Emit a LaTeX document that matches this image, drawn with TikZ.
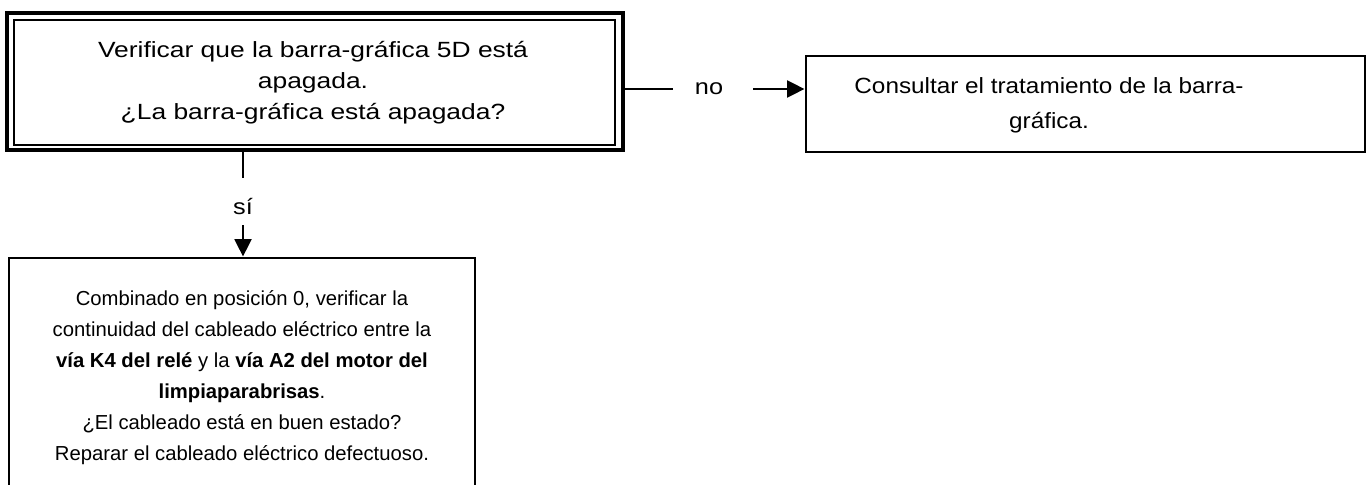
\documentclass[tikz,border=0pt]{standalone}
\usepackage{fontspec}
\setmainfont{Liberation Sans}[FakeStretch=1.15]
\newfontfamily\fontA{Liberation Sans}[FakeStretch=1.2]
\newfontfamily\fontB{Liberation Sans}[FakeStretch=1.105]
\newfontfamily\fontC{Liberation Sans}
\usetikzlibrary{arrows.meta}
\begin{document}
\begin{tikzpicture}[x=0.75pt,y=-0.75pt,
  box/.style={draw,line width=2.2pt,inner sep=0pt},
  txt/.style={align=center,inner sep=0pt,font=\fontsize{16.5}{23.25}\selectfont},
  conn/.style={line width=2.2pt},
  arr/.style={line width=2.2pt,-{Triangle[length=13pt,width=12.5pt]}}]
\useasboundingbox (0,0) rectangle (1368,485);
\clip (0,0) rectangle (1368,485);
% box 1 (double frame)
\node[box,line width=2.8pt,minimum width=462pt,minimum height=102.75pt] (b1o) at (315,81.5) {};
\node[box,minimum width=450.75pt,minimum height=93.75pt] (b1) at (314.5,82.5) {};
\node[txt,font=\fontA\fontsize{16.5}{23.25}\selectfont] (t1) at (313,83) {Verificar que la barra-gráfica 5D está\\apagada.\\¿La barra-gráfica está apagada?};
% box 2
\node[box,minimum width=419.25pt,minimum height=72pt] (b2) at (1085.5,104) {};
\node[txt,font=\fontB\fontsize{16.5}{26.25}\selectfont] (t2) at (1049,105) {Consultar el tratamiento de la barra-\\gráfica.};
% box 3
\node[box,minimum width=349.5pt,minimum height=256.5pt] (b3) at (242,429) {};
\node[txt,font=\fontC\fontsize{15.2}{23.25}\selectfont] (t3) at (242,378) {Combinado en posición 0, verificar la\\continuidad del cableado eléctrico entre la\\\textbf{vía K4 del relé} y la \textbf{vía A2 del motor del}\\\textbf{limpiaparabrisas}.\\¿El cableado está en buen estado?\\Reparar el cableado eléctrico defectuoso.};
% no connector
\node[txt] (no) at (709,89) {no};
\coordinate (n1) at (673,89);
\coordinate (n2) at (753,89);
\draw[conn] (b1o.east |- n1) -- (n1);
\draw[arr] (n2) -- (b2.west |- n2);
% si connector
\node[txt] (si) at (243,207) {sí};
\coordinate (s1) at (243,178);
\coordinate (s2) at (243,225);
\draw[conn] (s1 |- b1o.south) -- (s1);
\draw[arr] (s2) -- (s2 |- b3.north);
\end{tikzpicture}
\end{document}
